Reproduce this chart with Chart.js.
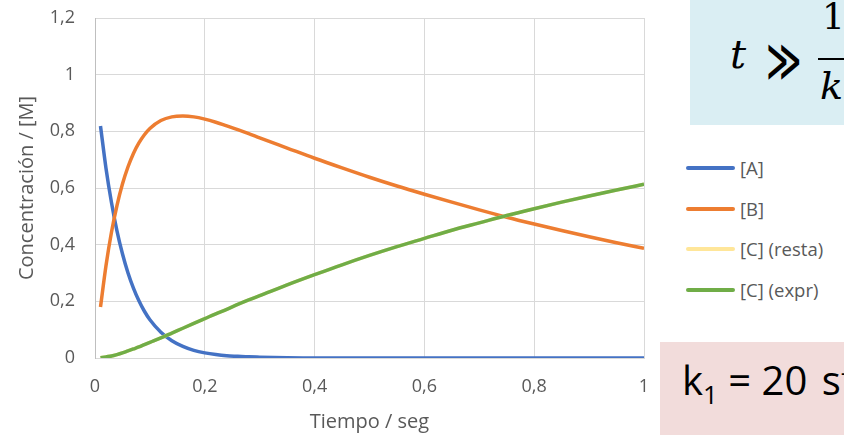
<!DOCTYPE html>
<html>
<head>
<meta charset="utf-8">
<script src="https://cdn.jsdelivr.net/npm/chart.js@4.4.0/dist/chart.umd.min.js"></script>
<style>
  body { margin: 0; background: #fff; width: 844px; height: 435px; overflow: hidden; position: relative; font-family: "Open Sans", sans-serif; }
  #wrap { position: absolute; left: 0; top: 0; width: 660px; height: 435px; }
  #legend { position: absolute; left: 686px; top: 156px; }
  .item { position: absolute; left: 0; height: 24px; white-space: nowrap; }
  .item .swatch { position: absolute; left: 0; top: 10px; width: 49px; height: 4px; border-radius: 2px; }
  .item span { position: absolute; left: 54px; top: 0; font-size: 18.5px; color: #595959; line-height: 24px; }
  #boxBlue { position: absolute; left: 690px; top: 0; width: 154px; height: 125px; background: #daeef3; overflow: hidden; font-family: "DejaVu Serif", serif; color: #000; }
  #boxPink { position: absolute; left: 660px; top: 342px; width: 184px; height: 93px; background: #f2dcdb; overflow: hidden; color: #000; }
</style>
</head>
<body>
<div id="wrap"><canvas id="kinChart"></canvas></div>
<div id="legend"></div>
<div id="boxBlue">
  <div style="position:absolute;left:40px;top:31px;font-size:40px;font-style:italic;">t</div>
  <div style="position:absolute;left:76px;top:40px;font-size:40px;line-height:1;transform:scale(0.85,1.5);transform-origin:0 50%;font-family:'DejaVu Sans';font-weight:200;">&#8811;</div>
  <div style="position:absolute;left:132px;top:-4px;font-size:36px;">1</div>
  <div style="position:absolute;left:128px;top:58px;width:40px;height:2px;background:#000;"></div>
  <div style="position:absolute;left:130px;top:64px;font-size:38px;font-style:italic;">k</div>
</div>
<div id="boxPink">
  <div style="position:absolute;left:22px;top:10px;font-size:40px;white-space:nowrap;">k<sub style="font-size:26px;">1</sub> = 20 &#8202;s<sup style="font-size:24px;">-1</sup></div>
</div>
<script>
// tiempo (s)
const tiempo = [0.01, 0.02, 0.03, 0.04, 0.05, 0.06, 0.07, 0.08, 0.09, 0.10,
  0.12, 0.14, 0.16, 0.18, 0.20, 0.22, 0.24, 0.26, 0.28, 0.30,
  0.35, 0.40, 0.45, 0.50, 0.55, 0.60, 0.65, 0.70, 0.75, 0.80, 0.85, 0.90, 0.95, 1.00];

const concA = [0.819, 0.670, 0.549, 0.449, 0.368, 0.301, 0.247, 0.202, 0.165, 0.135,
  0.091, 0.061, 0.041, 0.027, 0.018, 0.012, 0.008, 0.006, 0.004, 0.003,
  0.001, 0.000, 0.000, 0.000, 0.000, 0.000, 0.000, 0.000, 0.000, 0.000, 0.000, 0.000, 0.000, 0.000];

const concB = [0.180, 0.326, 0.444, 0.538, 0.614, 0.674, 0.722, 0.759, 0.788, 0.810,
  0.838, 0.851, 0.854, 0.851, 0.843, 0.832, 0.819, 0.806, 0.792, 0.777,
  0.741, 0.705, 0.671, 0.638, 0.607, 0.578, 0.550, 0.523, 0.497, 0.473, 0.450, 0.428, 0.407, 0.387];

const concCresta = [0.001, 0.004, 0.007, 0.012, 0.018, 0.025, 0.032, 0.039, 0.047, 0.055,
  0.071, 0.088, 0.105, 0.122, 0.139, 0.156, 0.172, 0.189, 0.205, 0.220,
  0.258, 0.294, 0.329, 0.362, 0.393, 0.422, 0.451, 0.477, 0.503, 0.527, 0.550, 0.572, 0.593, 0.613];

const concCexpr = [0.001, 0.004, 0.007, 0.012, 0.018, 0.025, 0.032, 0.039, 0.047, 0.055,
  0.071, 0.088, 0.105, 0.122, 0.139, 0.156, 0.172, 0.189, 0.205, 0.220,
  0.258, 0.294, 0.329, 0.362, 0.393, 0.422, 0.451, 0.477, 0.503, 0.527, 0.550, 0.572, 0.593, 0.613];

const seriesLabels = ['[A]', '[B]', '[C] (resta)', '[C] (expr)'];
const seriesColors = ['#4472c4', '#ed7d31', '#ffe699', '#70ad47'];
const seriesData = [concA, concB, concCresta, concCexpr];

const comma = v => String(Math.round(v * 10) / 10).replace('.', ',');

const datasets = seriesData.map((vals, i) => ({
    label: seriesLabels[i],
    data: vals.map((y, j) => ({ x: tiempo[j], y: y })),
    borderColor: seriesColors[i],
    backgroundColor: seriesColors[i],
    borderWidth: 3.5,
    pointRadius: 0,
    cubicInterpolationMode: 'monotone',
    order: 4 - i
}));

const ctx = document.getElementById('kinChart').getContext('2d');
new Chart(ctx, {
    type: 'line',
    data: { datasets: datasets },
    options: {
        responsive: true,
        maintainAspectRatio: false,
        animation: false,
        layout: { padding: { left: 0, right: 16, top: 18, bottom: 0 } },
        plugins: {
            legend: { display: false },
            tooltip: { enabled: false }
        },
        scales: {
            x: {
                type: 'linear',
                min: 0,
                max: 1,
                afterFit: s => { s.height = 77; s.paddingLeft = 0; s.paddingRight = 0; },
                ticks: { stepSize: 0.2, color: '#595959', padding: 18, font: { family: 'Open Sans', size: 18 }, callback: comma },
                grid: { color: '#d9d9d9', drawTicks: false },
                border: { color: '#d9d9d9' },
                title: { display: true, text: 'Tiempo / seg', color: '#595959', font: { family: 'Open Sans', size: 20 }, padding: { top: 0, bottom: 1 } }
            },
            y: {
                min: 0,
                max: 1.2,
                afterFit: s => { s.width = 95; s.paddingTop = 0; s.paddingBottom = 0; },
                ticks: { stepSize: 0.2, color: '#595959', padding: 20, font: { family: 'Open Sans', size: 18 }, callback: comma },
                grid: { color: '#d9d9d9', drawTicks: false },
                border: { color: '#bfbfbf' },
                title: { display: true, text: 'Concentración / [M]', color: '#595959', font: { family: 'Open Sans', size: 20 }, padding: { top: 15, bottom: 0 } }
            }
        }
    }
});

// legend on the right
const legend = document.getElementById('legend');
seriesLabels.forEach((lab, i) => {
    const item = document.createElement('div');
    item.className = 'item';
    item.style.top = (i * 40.7) + 'px';
    item.innerHTML = '<div class="swatch" style="background:' + seriesColors[i] + '"></div><span>' + lab + '</span>';
    legend.appendChild(item);
});
</script>
</body>
</html>
